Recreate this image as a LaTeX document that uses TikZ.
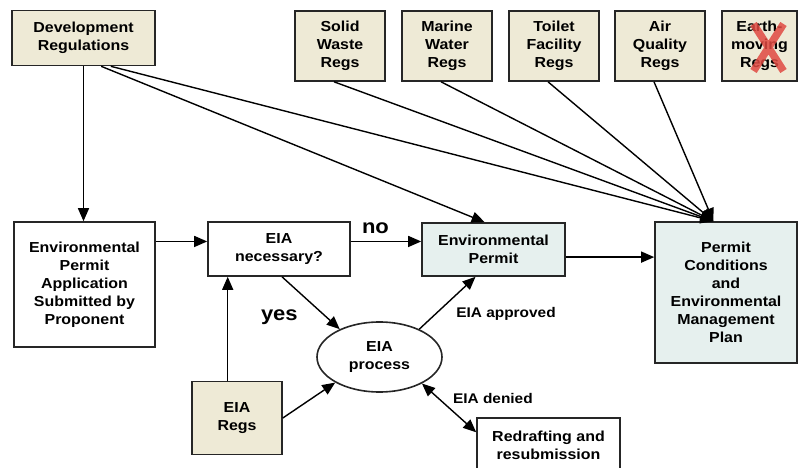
\documentclass[tikz,border=0pt]{standalone}
\usepackage{fontspec}
\setmainfont{Liberation Sans}[FakeStretch=1.1]
\usetikzlibrary{arrows.meta,shapes.geometric}
\definecolor{regbeige}{RGB}{238,234,214}
\definecolor{permitblue}{RGB}{230,240,238}
\definecolor{crossred}{RGB}{224,74,66}

\begin{document}
\begin{tikzpicture}[x=1pt,y=-1pt,
  >={Triangle[length=13pt,width=11pt]},
  box/.style={draw=black!85,line width=1.6pt,align=center,inner sep=2pt,
    font=\fontsize{14.5}{18}\selectfont\bfseries},
  regbox/.style={box,fill=regbeige},
  permbox/.style={box,fill=permitblue},
  arr/.style={->,line width=1.4pt},
  lbl/.style={font=\fontsize{14}{16}\selectfont\bfseries},
  big/.style={font=\fontsize{20}{22}\selectfont\bfseries}]
\useasboundingbox (0,0) rectangle (800,468);

% regulations
\node[regbox,minimum width=143pt,minimum height=55pt] (dev) at (83.5,38) {Development\\Regulations};
\node[regbox,minimum width=90pt,minimum height=70pt] (sw) at (340,46) {Solid\\Waste\\Regs};
\node[regbox,minimum width=90pt,minimum height=70pt] (mw) at (447,46) {Marine\\Water\\Regs};
\node[regbox,minimum width=90pt,minimum height=70pt] (tf) at (554,46) {Toilet\\Facility\\Regs};
\node[regbox,minimum width=90pt,minimum height=70pt] (aq) at (660,46) {Air\\Quality\\Regs};
\node[regbox,minimum width=75pt,minimum height=70pt] (em) at (759.5,46) {Earth-\\moving\\Regs};
\draw[crossred,line width=7.5pt,opacity=0.85]
  ([shift={(-6pt,22pt)}]em.center) -- ([shift={(24pt,-25pt)}]em.center)
  ([shift={(24pt,22pt)}]em.center) -- ([shift={(-6pt,-25pt)}]em.center);

% permit path
\node[box,minimum width=141pt,minimum height=125pt] (epa) at (84.5,284.5) {Environmental\\Permit\\Application\\Submitted by\\Proponent};
\node[box,minimum width=142pt,minimum height=54pt] (nec) at (279,249) {EIA\\necessary?};
\node[permbox,minimum width=143pt,minimum height=53pt] (ep) at (493.5,249.5) {Environmental\\Permit};
\node[permbox,minimum width=142pt,minimum height=141pt] (pc) at (726,292.5) {Permit\\Conditions\\and\\Environmental\\Management\\Plan};
\node[box,ellipse,minimum width=125pt,minimum height=70pt] (eia) at (379.5,357) {EIA\\process};
\node[regbox,minimum width=90pt,minimum height=73pt] (eregs) at (237,418) {EIA\\Regs};
\node[box,minimum width=143pt,minimum height=54pt] (redo) at (548.5,445) {Redrafting and\\resubmission};

\draw[arr] (dev.south) -- (dev.south |- epa.north);
\draw[arr] (dev.-58) -- (ep.108);
\draw[arr] (dev.-46) -- (pc.100);
\foreach \r in {sw,mw,tf,aq}
  \draw[arr] ([xshift=-6pt]\r.south) -- (pc.100);

\draw[arr] (epa.east |- nec.174) -- (nec.174);
\draw[arr] (nec.6) -- (nec.6 -| ep.west) node[pos=0.35,above=4pt,big] (no) {no};
\draw[arr] (ep.-6) -- (ep.-6 -| pc.west);
\draw[arr] ([xshift=3pt]nec.south) -- (eia.145) node[pos=0.55,below left,xshift=-12pt,big] (yes) {yes};
\draw[arr] (eia.35) -- ([xshift=-18pt]ep.south) node[pos=0.5,below right,xshift=5pt,lbl] (ok) {EIA approved};
\draw[arr] (eregs.104) -- (eregs.104 |- nec.south);
\draw[arr] (eregs.east) -- (eia.210);
\draw[arr,<->] (eia.-32) -- (redo.170) node[midway,above right,lbl] (denied) {EIA denied};
\end{tikzpicture}
\end{document}
